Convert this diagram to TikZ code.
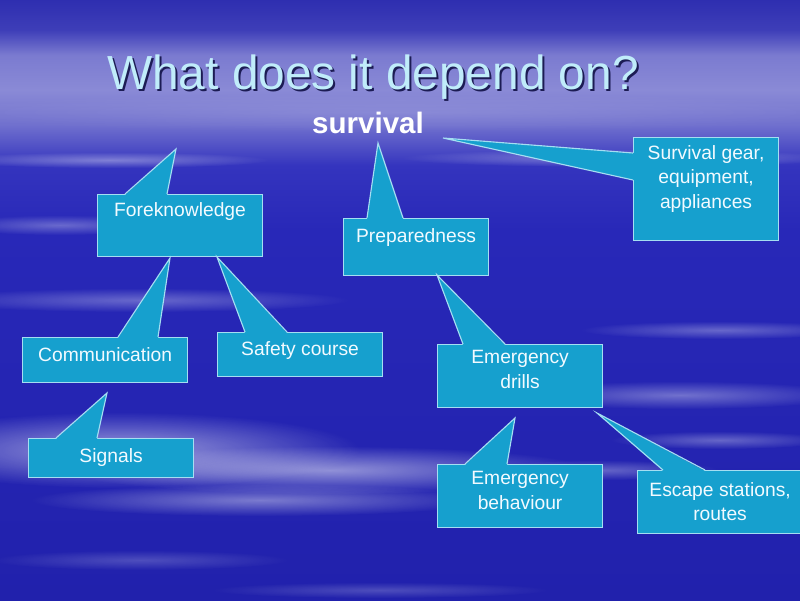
\documentclass[tikz,border=0pt]{standalone}
\usepackage{fontspec}
\setmainfont{Liberation Sans}
\usetikzlibrary{calc,fadings}

\definecolor{skytop}{RGB}{46,46,176}
\definecolor{skyrise}{RGB}{62,62,184}
\definecolor{skyhaze}{RGB}{138,138,214}
\definecolor{skyfall}{RGB}{112,112,206}
\definecolor{skydeep}{RGB}{52,52,190}
\definecolor{skymid}{RGB}{40,40,184}
\definecolor{skylow}{RGB}{33,33,172}
\definecolor{boxfill}{RGB}{22,160,206}
\definecolor{rim}{RGB}{165,222,242}
\definecolor{boxtext}{RGB}{242,250,255}
\definecolor{headfill}{RGB}{192,236,250}
\definecolor{headshade}{RGB}{28,28,84}

% sky: 25bp = bottom of the slide, 75bp = top
\pgfdeclareverticalshading{sky}{100bp}{color(0bp)=(skylow); color(25bp)=(skylow);
  color(55.8bp)=(skymid); color(61.2bp)=(skydeep); color(64.6bp)=(skyfall);
  color(67.5bp)=(skyhaze); color(70.4bp)=(skyhaze!80!skyrise); color(72.5bp)=(skyrise);
  color(75bp)=(skytop); color(100bp)=(skytop)}
\tikzfading[name=puff, inner color=transparent!0, outer color=transparent!100]

\begin{document}
\begin{tikzpicture}
  [x=0.025cm, y=-0.025cm,
   box/.style={rectangle, anchor=north west, fill=boxfill, draw=rim, line width=0.8pt, inner sep=0pt},
   lbl/.style={anchor=north, inner sep=0pt, text=boxtext, align=center,
     font=\fontsize{13.7}{17.5}\selectfont, yshift=#1},
   lbl/.default=-0.225cm,
   pointer/.style={draw=rim, line width=0.8pt},
   cloud/.style={fill=white, opacity=#1, path fading=puff},
   head/.style={anchor=base, font=\fontsize{34}{34}\selectfont}]
  \useasboundingbox (0,0) rectangle (800,600);
  \clip (0,0) rectangle (800,600);

  % background
  \shade[shading=sky] (0,0) rectangle (800,600);
  \foreach \cx/\cy/\rx/\ry/\op in {400/112/480/20/0.12, 620/158/220/9/0.35, 110/160/160/8/0.35,
      60/225/110/10/0.3, 140/300/210/12/0.3, 720/330/140/9/0.3, 680/395/170/14/0.35,
      120/450/240/38/0.55, 330/470/260/24/0.5, 260/500/230/16/0.4, 600/470/120/10/0.3,
      720/440/110/9/0.3, 140/560/150/10/0.2, 380/590/170/8/0.2}
    \fill[cloud=\op] (\cx,\cy) ellipse [x radius=\rx, y radius=\ry];

  % title
  \node[head, text=headshade] (titleshade) at (375,91) {What does it depend on?};
  \node[head, text=headfill] (title) at (373,89) {What does it depend on?};
  \node[anchor=base, text=white, font=\bfseries\fontsize{21}{21}\selectfont] (survival) at (368,133) {survival};

  % boxes
  \node[box, minimum width=4.125cm, minimum height=1.55cm, label={[lbl=-0.2cm]90:Foreknowledge}] (fk) at (97,194) {};
  \node[box, minimum width=3.625cm, minimum height=1.425cm, label={[lbl=-0.25cm]90:Preparedness}] (prep) at (343,218) {};
  \node[box, minimum width=3.625cm, minimum height=2.575cm,
    label={[lbl=-0.2cm]90:Survival gear,\\equipment,\\appliances}] (gear) at (633,137) {};
  \node[box, minimum width=4.125cm, minimum height=1.125cm, label={[lbl=-0.25cm]90:Communication}] (comm) at (22,337) {};
  \node[box, minimum width=4.125cm, minimum height=1.1cm, label={[lbl]90:Safety course}] (safe) at (217,332) {};
  \node[box, minimum width=4.125cm, minimum height=0.975cm, label={[lbl=-0.25cm]90:Signals}] (sig) at (28,438) {};
  \node[box, minimum width=4.125cm, minimum height=1.575cm, label={[lbl=-0.15cm]90:Emergency\\drills}] (drill) at (437,344) {};
  \node[box, minimum width=4.125cm, minimum height=1.575cm, label={[lbl=-0.175cm]90:Emergency\\behaviour}] (behav) at (437,464) {};
  \node[box, minimum width=4.125cm, minimum height=1.575cm, label={[lbl=-0.3cm]90:Escape stations,\\routes}] (esc) at (637,470) {};

  % pointer tips
  \coordinate (fk-tip) at (176,149);
  \coordinate (prep-tip) at (378,143);
  \coordinate (gear-tip) at (443,138);
  \coordinate (comm-tip) at (170,258);
  \coordinate (safe-tip) at (217,257);
  \coordinate (sig-tip) at (107,393);
  \coordinate (drill-tip) at (437,275);
  \coordinate (behav-tip) at (515,418);
  \coordinate (esc-tip) at (597,413);

  % pointers
  \foreach \nd/\xa/\xb in {fk/125/167, prep/367/403, comm/118/158, safe/245/287, sig/56/97,
      drill/463/505, behav/465/507, esc/663/705} {
    \fill[boxfill] ($(\nd.north -| \xa,0)+(0,1)$) -- (\nd-tip) -- ($(\nd.north -| \xb,0)+(0,1)$) -- cycle;
    \draw[pointer] (\nd.north -| \xa,0) -- (\nd-tip) -- (\nd.north -| \xb,0);
  }
  \fill[boxfill] ($(gear.west |- 0,153)+(1,0)$) -- (gear-tip) -- ($(gear.west |- 0,180)+(1,0)$) -- cycle;
  \draw[pointer] (gear.west |- 0,153) -- (gear-tip) -- (gear.west |- 0,180);
\end{tikzpicture}
\end{document}
